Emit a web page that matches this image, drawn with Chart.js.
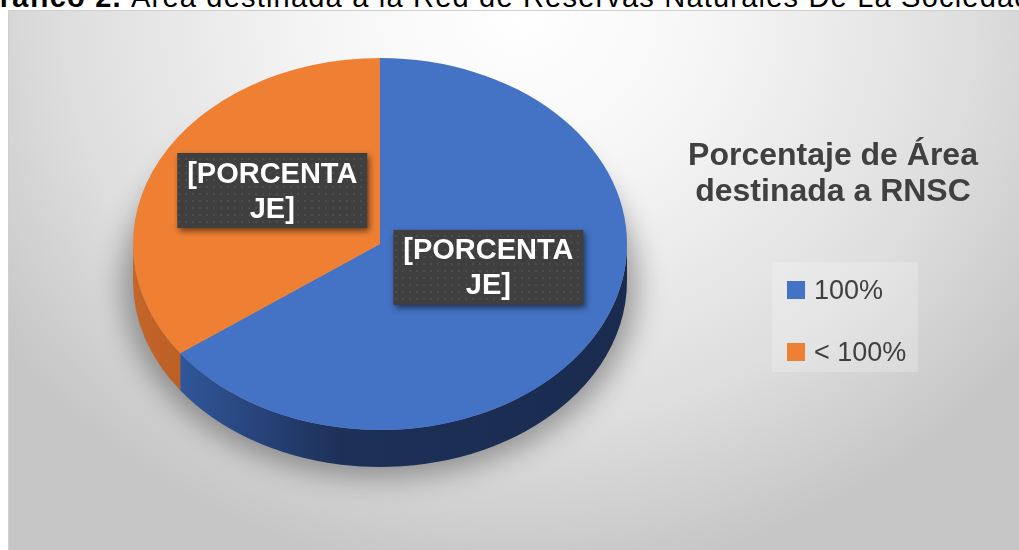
<!DOCTYPE html>
<html lang="es">
<head>
    <meta charset="UTF-8">
    <title>Área destinada a RNSC</title>
    <script src="https://cdn.jsdelivr.net/npm/chart.js"></script>
    <style>
        html, body { margin: 0; padding: 0; width: 1019px; height: 550px; overflow: hidden; background: #fff; }
        body { position: relative; font-family: "Liberation Sans", Arial, sans-serif; }
        #pageTitle {
            position: absolute; left: -24px; top: -19px; white-space: nowrap;
            font-size: 29px; color: #000; letter-spacing: 1.2px;
        }
        #frame {
            position: absolute; left: 8px; top: 10px; width: 1020px; height: 545px;
            border: 1px solid #cfcfcf; box-sizing: border-box;
            background: radial-gradient(ellipse 62% 105% at 50% 0%, #ffffff 0%, #f6f6f6 30%, #dedede 72%, #c6c6c6 100%);
        }
        #chartBox { position: absolute; left: 0; top: -20px; width: 1019px; height: 580px; }
        #chartTitle {
            position: absolute; left: 675px; width: 316px; top: 136px; text-align: center;
            font-weight: bold; font-size: 32px; line-height: 36px; color: #404040;
        }
        #legend {
            position: absolute; left: 772px; top: 262px; width: 146px; height: 110px;
            background: rgba(255,255,255,0.22); box-sizing: border-box; padding: 14px 0 0 15px;
        }
        .item { height: 62px; display: flex; align-items: flex-start; font-size: 27px; color: #404040; line-height: 28px; }
        .swatch { width: 18px; height: 18px; margin: 5px 9px 0 0; flex: none; }
    </style>
</head>
<body>
    <div id="pageTitle"><b>Gráfico 2.</b> Área destinada a la Red de Reservas Naturales De La Sociedad Civil</div>
    <div id="frame"></div>
    <div id="chartBox"><canvas id="pieChart" width="1019" height="580"></canvas></div>
    <div id="chartTitle">Porcentaje de Área<br>destinada a RNSC</div>
    <div id="legend"></div>

    <script>
    // values (blue slice ~ 65 %, orange ~ 35 %)
    const categories = ['100%', '< 100%'];
    const shares = [65, 35];
    const colors = ['#4472C4', '#EF8033'];
    const labelText = ['[PORCENTA', 'JE]'];

    const tilt = 0.753;   // vertical squash of the pie (3D view)
    const depth = 37;     // thickness of the pie rim

    // dotted dark fill used behind the data labels
    function makePattern(ctx) {
        let p = document.createElement('canvas');
        p.width = 7; p.height = 7;
        let c = p.getContext('2d');
        c.fillStyle = '#3f3f3f';
        c.fillRect(0, 0, 7, 7);
        c.fillStyle = '#4c4c4c';
        c.fillRect(3, 3, 2, 2);
        return ctx.createPattern(p, 'repeat');
    }

    function ellipsePt(x, y, r, a) {
        return [x + r * Math.cos(a), y + tilt * r * Math.sin(a)];
    }

    const pie3d = {
        id: 'pie3d',
        beforeDatasetsDraw(chart) {
            const ctx = chart.ctx;
            const arcs = chart.getDatasetMeta(0).data;
            const x = arcs[0].x, y = arcs[0].y, r = arcs[0].outerRadius;

            // soft shadow under the pie
            ctx.save();
            ctx.filter = 'blur(14px)';
            ctx.fillStyle = 'rgba(0,0,0,0.34)';
            ctx.beginPath();
            ctx.ellipse(x, y + depth + 4, r + 10, tilt * r + 6, 0, 0, Math.PI * 2);
            ctx.fill();
            ctx.restore();

            // front rim of each slice
            arcs.forEach((arc, i) => {
                let a1 = arc.startAngle, a2 = arc.endAngle;
                const twoPi = Math.PI * 2;
                let segs = [];
                for (let k = -1; k <= 1; k++) {
                    let s = Math.max(a1, k * twoPi), e = Math.min(a2, k * twoPi + Math.PI);
                    if (e > s) segs.push([s, e]);
                }
                segs.forEach(([s, e]) => {
                    const grad = ctx.createLinearGradient(x - r, 0, x + r, 0);
                    if (i === 0) {
                        grad.addColorStop(0, '#3a63ad');
                        grad.addColorStop(0.12, '#2f5394');
                        grad.addColorStop(0.42, '#1d3058');
                        grad.addColorStop(1, '#1a2b4f');
                    } else {
                        grad.addColorStop(0, '#c4652a');
                        grad.addColorStop(0.2, '#b55a1f');
                        grad.addColorStop(1, '#a04f1a');
                    }
                    ctx.save();
                    ctx.fillStyle = grad;
                    ctx.beginPath();
                    ctx.ellipse(x, y, r, tilt * r, 0, s, e, false);
                    ctx.ellipse(x, y + depth, r, tilt * r, 0, e, s, true);
                    ctx.closePath();
                    ctx.fill();
                    ctx.restore();
                });
            });

            // squash the flat pie into the tilted top face
            ctx.save();
            ctx.translate(x, y);
            ctx.scale(1, tilt);
            ctx.translate(-x, -y);
        },
        afterDatasetsDraw(chart) {
            const ctx = chart.ctx;
            ctx.restore();

            // data labels (placeholder text as in the source)
            const arcs = chart.getDatasetMeta(0).data;
            const place = [[0.47, -0.2], [0.52, 0.09]];
            const nudge = [[-3.5, 0], [1, -2]];
            ctx.save();
            arcs.forEach((arc, i) => {
                const mid = (arc.startAngle + arc.endAngle) / 2 + place[i][1];
                let [lx, ly] = ellipsePt(arc.x, arc.y, arc.outerRadius * place[i][0], mid);
                lx += nudge[i][0];
                ly += nudge[i][1];
                const w = 190, h = 75;
                ctx.save();
                ctx.shadowColor = 'rgba(0,0,0,0.55)';
                ctx.shadowBlur = 6;
                ctx.shadowOffsetX = 2;
                ctx.shadowOffsetY = 3;
                ctx.fillStyle = makePattern(ctx);
                ctx.fillRect(lx - w / 2, ly - h / 2, w, h);
                ctx.restore();
                ctx.fillStyle = '#ffffff';
                ctx.font = 'bold 29px "Liberation Sans", Arial, sans-serif';
                ctx.textAlign = 'center';
                ctx.textBaseline = 'middle';
                ctx.fillText(labelText[0], lx, ly - 16);
                ctx.fillText(labelText[1], lx, ly + 19);
            });
            ctx.restore();
        }
    };

    const chart = new Chart(document.getElementById('pieChart'), {
        type: 'pie',
        data: {
            labels: categories,
            datasets: [{
                data: shares,
                backgroundColor: colors,
                borderWidth: 0
            }]
        },
        options: {
            responsive: false,
            animation: false,
            events: [],
            layout: { padding: { left: 133, right: 392, top: 17, bottom: 69 } },
            plugins: {
                legend: { display: false },
                tooltip: { enabled: false }
            }
        },
        plugins: [pie3d]
    });

    // HTML legend built from the same arrays
    const legendEl = document.getElementById('legend');
    categories.forEach((c, i) => {
        legendEl.innerHTML += '<div class="item"><span class="swatch" style="background:' + colors[i] + '"></span>' + c + '</div>';
    });
    </script>
</body>
</html>
